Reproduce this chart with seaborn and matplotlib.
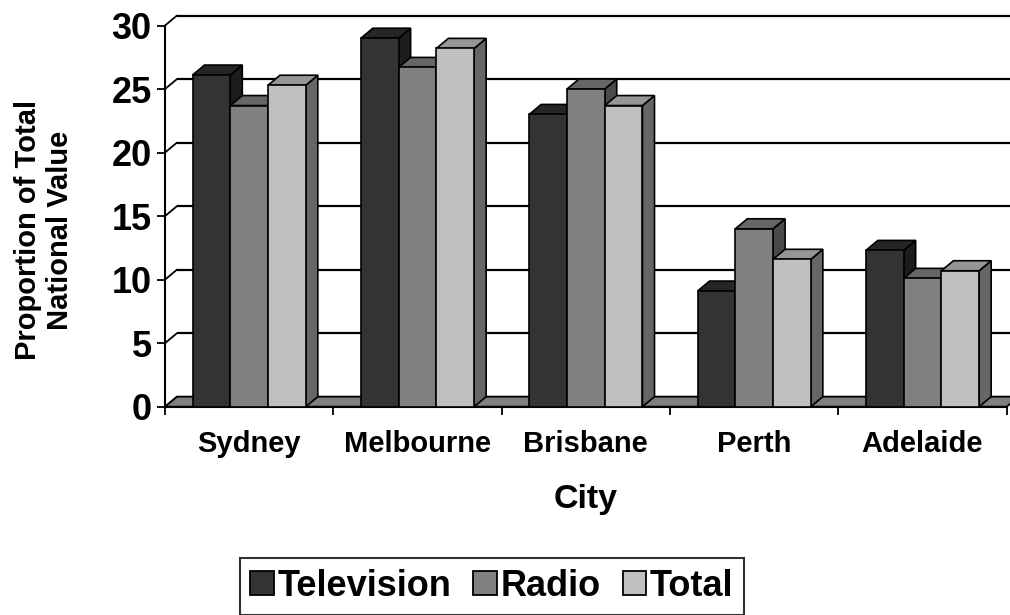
import numpy as np
import pandas as pd
import matplotlib
matplotlib.use("Agg")
import matplotlib.pyplot as plt
import seaborn as sns
from matplotlib.patches import Polygon, Patch
from matplotlib.transforms import IdentityTransform

cities = ["Sydney", "Melbourne", "Brisbane", "Perth", "Adelaide"]
series = ["Television", "Radio", "Total"]
television = [26.1, 29.0, 23.0, 9.1, 12.3]
radio = [23.7, 26.7, 25.0, 14.0, 10.1]
total = [25.3, 28.2, 23.7, 11.6, 10.7]
yticks = [0, 5, 10, 15, 20, 25, 30]

front_colors = ["#333333", "#808080", "#c0c0c0"]
top_colors = ["#262626", "#666666", "#969696"]
side_colors = ["#1c1c1c", "#4a4a4a", "#666666"]

sns.set_style("white")
plt.rcParams["font.family"] = ["Liberation Sans", "DejaVu Sans"]
plt.rcParams["font.weight"] = "bold"
for key in ["text.color", "axes.labelcolor", "xtick.color", "ytick.color"]:
    plt.rcParams[key] = "black"

df = pd.DataFrame({
    "City": cities * 3,
    "Series": [s for s in series for _ in cities],
    "Value": television + radio + total,
})

W, H = 1010, 615
fig = plt.figure(figsize=(W / 100, H / 100), dpi=100)
x_left, x_right = 165, 1006.7
y_bot, y_top = 406.7, 25.5
ax = fig.add_axes([x_left / W, 1 - y_bot / H, (x_right - x_left) / W, (y_bot - y_top) / H])
ax.set_facecolor("none")

sns.barplot(data=df, x="City", y="Value", hue="Series", order=cities, hue_order=series,
            palette=front_colors, saturation=1, width=0.673, edgecolor="black",
            linewidth=1.2, legend=False, ax=ax)
ax.set_xlim(-0.5, len(cities) - 0.5)
ax.set_ylim(0, 30)

DX, DY = 12, 10
fig.canvas.draw()
T = ax.transData

# back wall gridlines and left wall diagonals
for yv in yticks:
    (ax0, ay), = T.transform([(-0.5, yv)])
    (bx1, _), = T.transform([(len(cities) - 0.5, yv)])
    ax.plot([ax0 + DX, bx1 + DX + 20], [ay + DY, ay + DY], color="black", lw=1.6,
            transform=IdentityTransform(), clip_on=False, zorder=1, solid_capstyle="butt")
    ax.plot([ax0, ax0 + DX], [ay, ay + DY], color="black", lw=1.3,
            transform=IdentityTransform(), clip_on=False, zorder=1)

# floor
(fx0, fy), = T.transform([(-0.5, 0)])
(fx1, _), = T.transform([(len(cities) - 0.5, 0)])
floor = Polygon([(fx0, fy), (fx1, fy), (fx1 + DX, fy + DY), (fx0 + DX, fy + DY)],
                closed=True, facecolor="#808080", edgecolor="black", lw=1.3,
                transform=IdentityTransform(), clip_on=False, zorder=2)
bars = list(ax.patches)
ax.add_patch(floor)

# 3D faces for bars
n = len(cities)
for i, p in enumerate(bars):
    k = i // n
    x0 = p.get_x()
    x1 = x0 + p.get_width()
    h = p.get_height()
    (X0, Y0), = T.transform([(x0, 0)])
    (X1, Yh), = T.transform([(x1, h)])
    top = Polygon([(X0, Yh), (X1, Yh), (X1 + DX, Yh + DY), (X0 + DX, Yh + DY)], closed=True,
                  facecolor=top_colors[k], edgecolor="black", lw=1.2,
                  transform=IdentityTransform(), clip_on=False, zorder=5 + 3 * k + 1)
    side = Polygon([(X1, Y0), (X1, Yh), (X1 + DX, Yh + DY), (X1 + DX, Y0 + DY)], closed=True,
                   facecolor=side_colors[k], edgecolor="black", lw=1.2,
                   transform=IdentityTransform(), clip_on=False, zorder=5 + 3 * k)
    ax.add_patch(side)
    ax.add_patch(top)
    p.set_zorder(5 + 3 * k + 2)
    p.set_clip_on(False)

# axes styling
for s in ["top", "right"]:
    ax.spines[s].set_visible(False)
for s in ["left", "bottom"]:
    ax.spines[s].set_color("black")
    ax.spines[s].set_linewidth(1.5)
    ax.spines[s].set_zorder(3)

ax.set_yticks(yticks)
ax.set_yticklabels([str(v) for v in yticks], fontsize=26, fontweight="bold")
ax.tick_params(axis="y", length=6, width=1.3, color="black", pad=3.5, left=True)
ax.set_xticks(range(n))
ax.set_xticklabels(cities, fontsize=21, fontweight="bold")
ax.set_xticks(np.arange(-0.5, n, 1.0), minor=True)
ax.tick_params(axis="x", which="major", length=0, pad=17)
ax.tick_params(axis="x", which="minor", length=6, width=1.3, color="black", bottom=True)
ax.set_xlabel("")
ax.set_ylabel("")

fig.text(44 / W, 1 - 230 / H, "Proportion of Total\nNational Value", rotation=90,
         ha="center", va="center", fontsize=21, fontweight="bold",
         multialignment="center", linespacing=1.15)
fig.text(586 / W, 1 - 508 / H, "City", ha="center", va="baseline", fontsize=24.5,
         fontweight="bold")

handles = [Patch(facecolor=c, edgecolor="black", lw=1.3) for c in front_colors]
leg = fig.legend(handles, series, loc="upper center", bbox_to_anchor=(492 / W, 1 - 558 / H),
                 ncol=3, frameon=True, fancybox=False, edgecolor="black",
                 prop={"size": 26, "weight": "bold"}, handlelength=0.64, handleheight=0.64,
                 handletextpad=0.12, columnspacing=0.6, borderpad=0.3, borderaxespad=0)
leg.get_frame().set_linewidth(1.5)

fig.savefig("out.png", dpi=100)
